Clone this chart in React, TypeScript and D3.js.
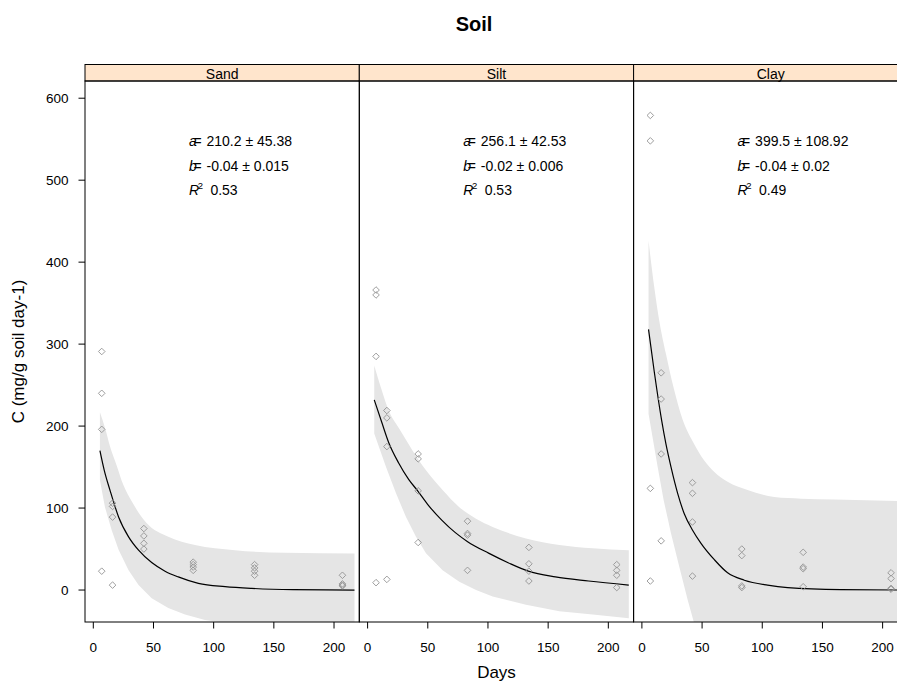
import React from "react";
import * as d3 from "d3";

const WIDTH = 897;
const HEIGHT = 682;

const soils = ["Sand", "Silt", "Clay"];
const sampleDays = [7, 16, 42, 83, 134, 207];

// Observed C per sampling day, four replicates each
const sandObserved = [
  [291, 240, 196, 23],
  [106, 102, 89, 6],
  [75, 66, 57, 50],
  [34, 31, 28, 24],
  [31, 27, 23, 18],
  [18, 7.5, 6, 5],
];
const siltObserved = [
  [366, 360, 285, 9],
  [219, 210, 175, 13],
  [166, 160, 121, 58],
  [84, 69, 67, 24],
  [52, 32, 23, 11],
  [31, 24, 18, 3],
];
const clayObserved = [
  [579, 548, 124, 11],
  [265, 233, 166, 60],
  [131, 118, 83, 17],
  [50, 42, 5, 3],
  [46, 28, 26, 4],
  [21, 14, 2, 1],
];

// Fitted decay curves
const sandFitDays = [5.5, 9.1, 13.9, 21, 29.3, 37.6, 48.5, 59.6, 70.6, 87.3, 109.5, 131.6, 166, 217];
const sandFitC = [170, 146, 121.6, 89.2, 64.9, 48.6, 33.5, 23, 16, 8.1, 4.1, 2, 0.5, 0];
const siltFitDays = [5.5, 11.9, 17.5, 25.8, 34.1, 41.6, 50.7, 61.8, 72.9, 83.1, 100.5, 117.2, 133.5, 156, 183.6, 217];
const siltFitC = [232, 204, 180, 155, 135, 121, 103, 85, 70, 59, 45, 33, 23, 16, 11, 6];
const clayFitDays = [5.5, 10.3, 16.4, 20, 24.2, 29.7, 35.2, 42.1, 49.1, 60.2, 71.2, 85.1, 104.4, 121.1, 165.4, 217];
const clayFitC = [318, 266, 207, 178, 150, 118, 93, 73, 57, 37, 21, 12, 6, 3, 0.5, 0];

// Confidence band limits
const sandUpperDays = [5.5, 10.3, 13.9, 19.4, 25, 32, 44, 62.3, 84.5, 117.7, 159.3, 217];
const sandUpperC = [217, 195, 175, 152, 128, 108, 82, 65, 55, 48.6, 45.4, 44.6];
const sandLowerDays = [5.5, 9.7, 15.3, 21, 29.3, 37.6, 48.5, 62.3, 76.2, 92.8, 105, 130, 217];
const sandLowerC = [134, 101, 73, 49, 24, 6, -10, -22, -30, -36.5, -39, -41, -43];
const siltUpperDays = [5.5, 11.9, 17.5, 25.8, 29.1, 37.4, 48.5, 62.3, 76.2, 90.1, 103.9, 131.6, 159.3, 187, 217];
const siltUpperC = [274, 243, 219, 198, 190, 170, 146, 122, 101, 87, 77, 63, 55, 51, 48.6];
const siltLowerDays = [5.5, 15.3, 23.6, 31.9, 40.2, 48.5, 62.3, 76.2, 90.1, 103.9, 131.6, 159.3, 187, 217];
const siltLowerC = [191, 150, 118, 89, 65, 45, 24, 10, 0, -8, -18, -26, -30, -34.5];
const clayUpperDays = [5.5, 10.3, 14.5, 20, 26.3, 33.8, 43.5, 51.8, 60.2, 71.2, 87.8, 110, 132.2, 159.9, 217];
const clayUpperC = [426, 369, 328, 288, 247, 208, 178, 158, 144, 132, 122, 113.5, 111.5, 110.3, 108.6];
const clayLowerDays = [5.5, 13.1, 18, 24.2, 31.1, 38, 43, 60, 217];
const clayLowerC = [215, 150, 110, 69, 28, -12, -38.5, -60, -80];

// Model parameters C = a * exp(b * t)
const aEstimate = [210.2, 256.1, 399.5];
const aStdErr = [45.38, 42.53, 108.92];
const bEstimate = [-0.04, -0.02, -0.04];
const bStdErr = [0.015, 0.006, 0.02];
const rSquared = [0.53, 0.53, 0.49];

const xTicks = [0, 50, 100, 150, 200];
const yTicks = [0, 100, 200, 300, 400, 500, 600];

const observed = [sandObserved, siltObserved, clayObserved];
const fitDays = [sandFitDays, siltFitDays, clayFitDays];
const fitC = [sandFitC, siltFitC, clayFitC];
const upperDays = [sandUpperDays, siltUpperDays, clayUpperDays];
const upperC = [sandUpperC, siltUpperC, clayUpperC];
const lowerDays = [sandLowerDays, siltLowerDays, clayLowerDays];
const lowerC = [sandLowerC, siltLowerC, clayLowerC];

const FONT = "'Liberation Sans', Arial, Helvetica, sans-serif";
const PANEL_LEFT = 85;
const PANEL_W = 274.3;
const STRIP_TOP = 64.5;
const PANEL_TOP = 81;
const PANEL_BOTTOM = 622;
const TICK = 6.5;

const x = d3.scaleLinear().domain([-6.9, 221]).range([0, PANEL_W]);
const y = d3.scaleLinear().domain([-39, 621]).range([PANEL_BOTTOM, PANEL_TOP]);

const smoothLine = d3
  .line<[number, number]>()
  .x((d) => x(d[0]))
  .y((d) => y(d[1]))
  .curve(d3.curveMonotoneX);

const bandArea = (upper: [number, number][], lower: [number, number][]) => {
  const top = smoothLine(upper) || "";
  const bottom = smoothLine(lower.slice().reverse().map((d) => d) as [number, number][]);
  // reversed lower edge, joined to the upper edge into one closed outline
  const rev = d3
    .line<[number, number]>()
    .x((d) => x(d[0]))
    .y((d) => y(d[1]))(lower.slice().reverse());
  return `${top}L${rev ? rev.slice(1) : ""}Z`;
};

const zip = (a: number[], b: number[]): [number, number][] => a.map((v, i) => [v, b[i]]);

const diamond = (r: number) => `M0,${-r}L${r},0L0,${r}L${-r},0Z`;

export default function App() {
  return (
    <svg
      width={WIDTH}
      height={HEIGHT}
      viewBox={`0 0 ${WIDTH} ${HEIGHT}`}
      style={{ position: "absolute", left: 0, top: 0, background: "#fff" }}
      fontFamily={FONT}
    >
      <rect x={0} y={0} width={WIDTH} height={HEIGHT} fill="#fff" />
      <text x={474} y={31} textAnchor="middle" fontSize={20} fontWeight="bold" fill="#000">
        Soil
      </text>

      <defs>
        {soils.map((s) => (
          <clipPath id={`clip-${s}`} key={s}>
            <rect x={0} y={PANEL_TOP} width={PANEL_W} height={PANEL_BOTTOM - PANEL_TOP} />
          </clipPath>
        ))}
      </defs>

      {soils.map((s, i) => {
        const left = PANEL_LEFT + i * PANEL_W;
        const bandPath = bandArea(zip(upperDays[i], upperC[i]), zip(lowerDays[i], lowerC[i]));
        const fitPath = smoothLine(zip(fitDays[i], fitC[i])) || "";
        const pts: [number, number][] = [];
        sampleDays.forEach((d, j) => observed[i][j].forEach((c) => pts.push([d, c])));
        const ax = 104;
        const numX = 121.5;
        return (
          <g key={s} transform={`translate(${left},0)`}>
            <g clipPath={`url(#clip-${s})`}>
              <path d={bandPath} fill="#e5e5e5" stroke="none" />
              <path d={fitPath} fill="none" stroke="#000" strokeWidth={1.2} />
              {pts.map((p, k) => (
                <path
                  key={k}
                  d={diamond(3.3)}
                  transform={`translate(${x(p[0])},${y(p[1])})`}
                  fill="none"
                  stroke="#939393"
                  strokeWidth={0.9}
                />
              ))}
            </g>

            {/* parameter annotation */}
            <g fontSize={14} fill="#000">
              <text x={ax} y={146}>
                <tspan fontStyle="italic">a</tspan>
                <tspan dx={-3.3}>=</tspan>
                <tspan x={numX}>{`${aEstimate[i]} \u00b1 ${aStdErr[i]}`}</tspan>
              </text>
              <text x={ax} y={170.5}>
                <tspan fontStyle="italic">b</tspan>
                <tspan dx={-3.3}>=</tspan>
                <tspan x={numX}>{`${bEstimate[i]} \u00b1 ${bStdErr[i]}`}</tspan>
              </text>
              <text x={ax} y={195}>
                <tspan fontStyle="italic">R</tspan>
                <tspan dx={-1.5} dy={-6} fontSize={9.5}>2</tspan>
                <tspan x={ax + 21.4} dy={6}>{`${rSquared[i]}`}</tspan>
              </text>
            </g>

            {/* strip */}
            <rect
              x={0}
              y={STRIP_TOP}
              width={PANEL_W}
              height={PANEL_TOP - STRIP_TOP}
              fill="#ffe5cc"
              stroke="#000"
              strokeWidth={1}
            />
            <text x={PANEL_W / 2} y={79} textAnchor="middle" fontSize={14} fill="#000">
              {s}
            </text>

            {/* panel frame */}
            <rect
              x={0}
              y={PANEL_TOP}
              width={PANEL_W}
              height={PANEL_BOTTOM - PANEL_TOP}
              fill="none"
              stroke="#000"
              strokeWidth={1}
            />

            {/* bottom axis */}
            {xTicks.map((t) => (
              <g key={t} transform={`translate(${x(t)},0)`}>
                <line y1={PANEL_BOTTOM} y2={PANEL_BOTTOM + TICK} stroke="#000" />
                <text y={651.5} textAnchor="middle" fontSize={13.5} fill="#000">
                  {t}
                </text>
              </g>
            ))}

            {/* left axis on first panel */}
            {i === 0 &&
              yTicks.map((t) => (
                <g key={t} transform={`translate(0,${y(t)})`}>
                  <line x1={-TICK} x2={0} stroke="#000" />
                  <text x={-16.5} dy="0.36em" textAnchor="end" fontSize={13.5} fill="#000">
                    {t}
                  </text>
                </g>
              ))}
          </g>
        );
      })}

      <text x={496.5} y={678} textAnchor="middle" fontSize={17} fill="#000">
        Days
      </text>
      <text
        transform={`translate(24,${(PANEL_TOP + PANEL_BOTTOM) / 2}) rotate(-90)`}
        textAnchor="middle"
        fontSize={17}
        fill="#000"
      >
        C (mg/g soil day-1)
      </text>
    </svg>
  );
}
